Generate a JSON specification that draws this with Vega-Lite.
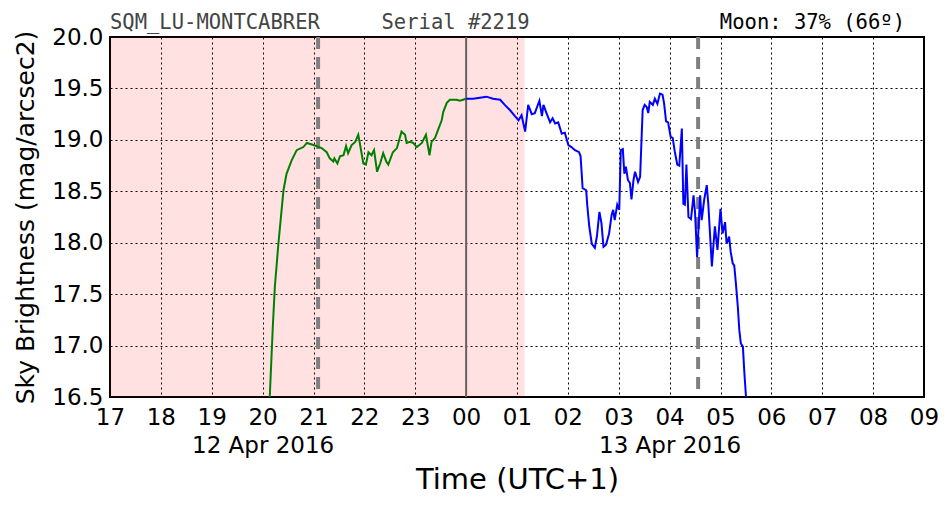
{
  "$schema": "https://vega.github.io/schema/vega-lite/v6.json",
  "width": 814,
  "height": 360,
  "autosize": {"type": "none"},
  "padding": {"left": 110, "top": 37, "right": 28, "bottom": 115},
  "background": "white",
  "config": {
    "view": {"stroke": "black", "strokeWidth": 2},
    "axis": {
      "domain": false,
      "ticks": false,
      "grid": true,
      "gridColor": "black",
      "gridDash": [2, 3],
      "gridWidth": 1,
      "gridOpacity": 1,
      "labelFont": "DejaVu Sans",
      "labelFontSize": 23,
      "labelColor": "black",
      "titleFont": "DejaVu Sans",
      "titleFontWeight": "normal",
      "titleColor": "black"
    }
  },
  "datasets": {
    "night": [{"h": 0, "h2": 8.15}],
    "dashes": [{"h": 4.09}, {"h": 11.56}],
    "midnight": [{"h": 7}],
    "header": [{"txt": "SQM_LU-MONTCABRER\u00a0\u00a0\u00a0\u00a0\u00a0Serial #2219"}],
    "moon": [{"txt": "Moon: 37% (66º)"}],
    "sqm": [
      {"h": 3.14, "v": 16.5, "part": "before"},
      {"h": 3.20, "v": 17.18, "part": "before"},
      {"h": 3.24, "v": 17.57, "part": "before"},
      {"h": 3.31, "v": 17.99, "part": "before"},
      {"h": 3.41, "v": 18.51, "part": "before"},
      {"h": 3.47, "v": 18.67, "part": "before"},
      {"h": 3.57, "v": 18.80, "part": "before"},
      {"h": 3.67, "v": 18.90, "part": "before"},
      {"h": 3.80, "v": 18.93, "part": "before"},
      {"h": 3.87, "v": 18.97, "part": "before"},
      {"h": 4.00, "v": 18.95, "part": "before"},
      {"h": 4.16, "v": 18.92, "part": "before"},
      {"h": 4.26, "v": 18.88, "part": "before"},
      {"h": 4.32, "v": 18.82, "part": "before"},
      {"h": 4.39, "v": 18.79, "part": "before"},
      {"h": 4.41, "v": 18.82, "part": "before"},
      {"h": 4.47, "v": 18.77, "part": "before"},
      {"h": 4.52, "v": 18.84, "part": "before"},
      {"h": 4.59, "v": 18.85, "part": "before"},
      {"h": 4.64, "v": 18.94, "part": "before"},
      {"h": 4.68, "v": 18.87, "part": "before"},
      {"h": 4.75, "v": 18.95, "part": "before"},
      {"h": 4.82, "v": 18.98, "part": "before"},
      {"h": 4.88, "v": 19.05, "part": "before"},
      {"h": 4.91, "v": 18.97, "part": "before"},
      {"h": 4.98, "v": 18.77, "part": "before"},
      {"h": 5.03, "v": 18.76, "part": "before"},
      {"h": 5.08, "v": 18.88, "part": "before"},
      {"h": 5.14, "v": 18.85, "part": "before"},
      {"h": 5.19, "v": 18.90, "part": "before"},
      {"h": 5.25, "v": 18.69, "part": "before"},
      {"h": 5.31, "v": 18.77, "part": "before"},
      {"h": 5.37, "v": 18.87, "part": "before"},
      {"h": 5.43, "v": 18.79, "part": "before"},
      {"h": 5.47, "v": 18.76, "part": "before"},
      {"h": 5.56, "v": 18.88, "part": "before"},
      {"h": 5.64, "v": 18.92, "part": "before"},
      {"h": 5.73, "v": 19.08, "part": "before"},
      {"h": 5.80, "v": 19.05, "part": "before"},
      {"h": 5.83, "v": 18.97, "part": "before"},
      {"h": 5.90, "v": 18.98, "part": "before"},
      {"h": 5.96, "v": 18.97, "part": "before"},
      {"h": 6.03, "v": 18.93, "part": "before"},
      {"h": 6.13, "v": 18.97, "part": "before"},
      {"h": 6.21, "v": 19.05, "part": "before"},
      {"h": 6.28, "v": 18.85, "part": "before"},
      {"h": 6.32, "v": 18.98, "part": "before"},
      {"h": 6.39, "v": 19.02, "part": "before"},
      {"h": 6.45, "v": 19.10, "part": "before"},
      {"h": 6.52, "v": 19.19, "part": "before"},
      {"h": 6.55, "v": 19.27, "part": "before"},
      {"h": 6.62, "v": 19.36, "part": "before"},
      {"h": 6.68, "v": 19.39, "part": "before"},
      {"h": 6.81, "v": 19.39, "part": "before"},
      {"h": 6.88, "v": 19.38, "part": "before"},
      {"h": 6.94, "v": 19.39, "part": "before"},
      {"h": 7.00, "v": 19.40, "part": "before"},
      {"h": 7.00, "v": 19.40, "part": "after"},
      {"h": 7.14, "v": 19.40, "part": "after"},
      {"h": 7.27, "v": 19.41, "part": "after"},
      {"h": 7.40, "v": 19.42, "part": "after"},
      {"h": 7.53, "v": 19.40, "part": "after"},
      {"h": 7.67, "v": 19.39, "part": "after"},
      {"h": 7.76, "v": 19.34, "part": "after"},
      {"h": 7.86, "v": 19.29, "part": "after"},
      {"h": 7.96, "v": 19.23, "part": "after"},
      {"h": 8.03, "v": 19.19, "part": "after"},
      {"h": 8.09, "v": 19.24, "part": "after"},
      {"h": 8.16, "v": 19.08, "part": "after"},
      {"h": 8.22, "v": 19.34, "part": "after"},
      {"h": 8.29, "v": 19.25, "part": "after"},
      {"h": 8.35, "v": 19.26, "part": "after"},
      {"h": 8.44, "v": 19.38, "part": "after"},
      {"h": 8.49, "v": 19.23, "part": "after"},
      {"h": 8.52, "v": 19.34, "part": "after"},
      {"h": 8.58, "v": 19.26, "part": "after"},
      {"h": 8.65, "v": 19.17, "part": "after"},
      {"h": 8.70, "v": 19.21, "part": "after"},
      {"h": 8.75, "v": 19.16, "part": "after"},
      {"h": 8.81, "v": 19.17, "part": "after"},
      {"h": 8.88, "v": 19.06, "part": "after"},
      {"h": 8.94, "v": 19.07, "part": "after"},
      {"h": 9.01, "v": 18.95, "part": "after"},
      {"h": 9.07, "v": 18.93, "part": "after"},
      {"h": 9.14, "v": 18.90, "part": "after"},
      {"h": 9.22, "v": 18.88, "part": "after"},
      {"h": 9.25, "v": 18.84, "part": "after"},
      {"h": 9.29, "v": 18.53, "part": "after"},
      {"h": 9.36, "v": 18.51, "part": "after"},
      {"h": 9.38, "v": 18.37, "part": "after"},
      {"h": 9.42, "v": 18.16, "part": "after"},
      {"h": 9.47, "v": 17.99, "part": "after"},
      {"h": 9.53, "v": 17.95, "part": "after"},
      {"h": 9.57, "v": 18.06, "part": "after"},
      {"h": 9.62, "v": 18.30, "part": "after"},
      {"h": 9.66, "v": 18.19, "part": "after"},
      {"h": 9.70, "v": 17.96, "part": "after"},
      {"h": 9.75, "v": 17.98, "part": "after"},
      {"h": 9.81, "v": 18.09, "part": "after"},
      {"h": 9.86, "v": 18.27, "part": "after"},
      {"h": 9.89, "v": 18.32, "part": "after"},
      {"h": 9.92, "v": 18.22, "part": "after"},
      {"h": 9.97, "v": 18.37, "part": "after"},
      {"h": 10.01, "v": 18.32, "part": "after"},
      {"h": 10.04, "v": 18.90, "part": "after"},
      {"h": 10.08, "v": 18.91, "part": "after"},
      {"h": 10.11, "v": 18.67, "part": "after"},
      {"h": 10.14, "v": 18.74, "part": "after"},
      {"h": 10.18, "v": 18.61, "part": "after"},
      {"h": 10.22, "v": 18.58, "part": "after"},
      {"h": 10.25, "v": 18.42, "part": "after"},
      {"h": 10.29, "v": 18.61, "part": "after"},
      {"h": 10.32, "v": 18.69, "part": "after"},
      {"h": 10.38, "v": 18.59, "part": "after"},
      {"h": 10.42, "v": 18.64, "part": "after"},
      {"h": 10.47, "v": 19.29, "part": "after"},
      {"h": 10.51, "v": 19.34, "part": "after"},
      {"h": 10.55, "v": 19.32, "part": "after"},
      {"h": 10.58, "v": 19.26, "part": "after"},
      {"h": 10.61, "v": 19.37, "part": "after"},
      {"h": 10.67, "v": 19.34, "part": "after"},
      {"h": 10.71, "v": 19.40, "part": "after"},
      {"h": 10.76, "v": 19.35, "part": "after"},
      {"h": 10.81, "v": 19.45, "part": "after"},
      {"h": 10.86, "v": 19.44, "part": "after"},
      {"h": 10.89, "v": 19.36, "part": "after"},
      {"h": 10.93, "v": 19.18, "part": "after"},
      {"h": 10.97, "v": 19.17, "part": "after"},
      {"h": 11.02, "v": 19.03, "part": "after"},
      {"h": 11.06, "v": 19.02, "part": "after"},
      {"h": 11.10, "v": 18.89, "part": "after"},
      {"h": 11.15, "v": 18.76, "part": "after"},
      {"h": 11.19, "v": 18.75, "part": "after"},
      {"h": 11.24, "v": 19.11, "part": "after"},
      {"h": 11.27, "v": 18.38, "part": "after"},
      {"h": 11.30, "v": 18.37, "part": "after"},
      {"h": 11.33, "v": 18.76, "part": "after"},
      {"h": 11.37, "v": 18.25, "part": "after"},
      {"h": 11.42, "v": 18.23, "part": "after"},
      {"h": 11.47, "v": 18.46, "part": "after"},
      {"h": 11.50, "v": 18.29, "part": "after"},
      {"h": 11.54, "v": 17.86, "part": "after"},
      {"h": 11.60, "v": 18.46, "part": "after"},
      {"h": 11.63, "v": 18.22, "part": "after"},
      {"h": 11.68, "v": 18.42, "part": "after"},
      {"h": 11.73, "v": 18.56, "part": "after"},
      {"h": 11.76, "v": 18.38, "part": "after"},
      {"h": 11.83, "v": 17.77, "part": "after"},
      {"h": 11.89, "v": 18.16, "part": "after"},
      {"h": 11.94, "v": 17.93, "part": "after"},
      {"h": 12.00, "v": 18.33, "part": "after"},
      {"h": 12.04, "v": 18.09, "part": "after"},
      {"h": 12.09, "v": 18.20, "part": "after"},
      {"h": 12.12, "v": 17.99, "part": "after"},
      {"h": 12.17, "v": 18.06, "part": "after"},
      {"h": 12.20, "v": 17.91, "part": "after"},
      {"h": 12.24, "v": 17.80, "part": "after"},
      {"h": 12.27, "v": 17.78, "part": "after"},
      {"h": 12.30, "v": 17.62, "part": "after"},
      {"h": 12.32, "v": 17.50, "part": "after"},
      {"h": 12.34, "v": 17.38, "part": "after"},
      {"h": 12.37, "v": 17.15, "part": "after"},
      {"h": 12.40, "v": 17.02, "part": "after"},
      {"h": 12.44, "v": 16.99, "part": "after"},
      {"h": 12.47, "v": 16.73, "part": "after"},
      {"h": 12.50, "v": 16.51, "part": "after"},
      {"h": 12.53, "v": 16.50, "part": "after"}
    ]
  },
  "layer": [
    {
      "data": {"name": "night"},
      "mark": {"type": "rect", "color": "#ff0000", "opacity": 0.118},
      "encoding": {
        "x": {
          "field": "h", "type": "quantitative",
          "scale": {"domain": [0, 16], "nice": false, "zero": false},
          "axis": {
            "title": "Time (UTC+1)",
            "titleFontSize": 29,
            "titlePadding": 8,
            "values": [0,1,2,3,4,5,6,7,8,9,10,11,12,13,14,15,16],
            "labelExpr": "datum.value == 3 ? ['20', '12 Apr 2016'] : datum.value == 11 ? ['04', '13 Apr 2016'] : (((datum.value + 17) % 24) < 10 ? '0' + ((datum.value + 17) % 24) : '' + ((datum.value + 17) % 24))",
            "labelLineHeight": 28,
            "labelPadding": 9,
            "labelFlush": false,
            "labelOverlap": false
          }
        },
        "x2": {"field": "h2"}
      }
    },
    {
      "data": {"name": "midnight"},
      "mark": {"type": "rule", "color": "#666060", "strokeWidth": 2},
      "encoding": {
        "x": {"field": "h", "type": "quantitative"}
      }
    },
    {
      "data": {"name": "dashes"},
      "mark": {"type": "rule", "color": "#808080", "strokeWidth": 4, "strokeDash": [12, 8]},
      "encoding": {
        "x": {"field": "h", "type": "quantitative"}
      }
    },
    {
      "data": {"name": "sqm"},
      "mark": {"type": "line", "strokeWidth": 2, "clip": true, "interpolate": "linear"},
      "encoding": {
        "x": {"field": "h", "type": "quantitative"},
        "y": {
          "field": "v", "type": "quantitative",
          "scale": {"domain": [16.5, 20], "nice": false, "zero": false},
          "axis": {
            "title": "Sky Brightness (mag/arcsec2)",
            "titleFontSize": 25,
            "titlePadding": 13,
            "values": [16.5, 17, 17.5, 18, 18.5, 19, 19.5, 20],
            "format": ".1f",
            "labelPadding": 7,
            "labelFlush": false,
            "labelOverlap": false
          }
        },
        "color": {
          "field": "part", "type": "nominal",
          "scale": {"domain": ["before", "after"], "range": ["#008000", "#0000ff"]},
          "legend": null
        },
        "order": {"field": "h", "type": "quantitative"}
      }
    },
    {
      "data": {"name": "header"},
      "mark": {"type": "text", "align": "left", "baseline": "bottom", "dy": -4, "font": "DejaVu Sans Mono", "fontSize": 20.5, "color": "#444444"},
      "encoding": {
        "x": {"datum": 0, "type": "quantitative"},
        "y": {"datum": 20, "type": "quantitative"},
        "text": {"field": "txt"}
      }
    },
    {
      "data": {"name": "moon"},
      "mark": {"type": "text", "align": "right", "baseline": "bottom", "dx": -19, "dy": -4, "font": "DejaVu Sans Mono", "fontSize": 20.5, "color": "black"},
      "encoding": {
        "x": {"datum": 16, "type": "quantitative"},
        "y": {"datum": 20, "type": "quantitative"},
        "text": {"field": "txt"}
      }
    }
  ]
}
